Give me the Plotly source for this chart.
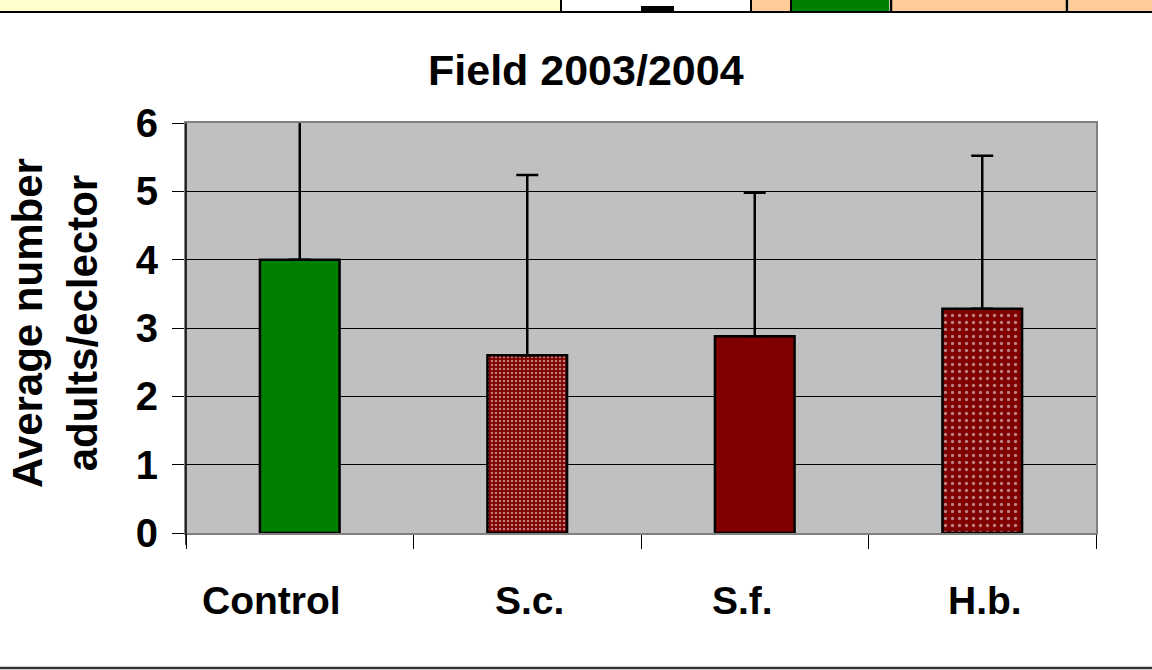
import plotly.graph_objects as go

categories = ["Control", "S.c.", "S.f.", "H.b."]
means = [4.0, 2.6, 2.88, 3.28]
errors = [2.15, 2.64, 2.1, 2.24]
y_ticks = [0, 1, 2, 3, 4, 5, 6]
title_text = "Field 2003/2004"
y_title = "Average number<br>adults/eclector"
label_shift = [-28, 2, -12, 3]  # horizontal offset of category labels (px)

W, H = 1152, 670
L, R, T, B = 186, 1096, 123, 533  # plot area pixels

def px(x):
    return (x - L) / (R - L)

def py(y):
    return (B - y) / (B - T)

FONT = "Liberation Sans, Arial, sans-serif"

fig = go.Figure()
fig.add_trace(go.Bar(
    x=categories, y=means,
    marker=dict(
        color=["#008000", "#800000", "#800000", "#800000"],
        line=dict(color="black", width=2.5),
        pattern=dict(
            shape=["", ".", "", "."],
            fgcolor="white",
            bgcolor=["#008000", "#B01010", "#800000", "#800000"],
            size=[6, 4, 6, 7],
            solidity=[0.2, 0.3, 0.2, 0.18],
            fillmode="overlay",
        ),
    ),
    error_y=dict(type="data", array=errors, symmetric=False, arrayminus=[0]*4,
                 color="black", thickness=2.5, width=11),
    width=0.35,
    hoverinfo="skip",
))

annotations = [
    dict(text="<b>%s</b>" % title_text, x=px(586), y=py(70), xref="paper", yref="paper",
         xanchor="center", yanchor="middle",
         showarrow=False, font=dict(size=43, family=FONT)),
    dict(text="<b>%s</b>" % y_title, x=px(55), y=py(323), xref="paper", yref="paper",
         xanchor="center", yanchor="middle",
         showarrow=False, textangle=-90, font=dict(size=42, family=FONT)),
]
for cat, sh in zip(categories, label_shift):
    annotations.append(dict(text="<b>%s</b>" % cat, x=cat, y=py(600), xref="x", yref="paper",
                            xanchor="center", yanchor="middle", xshift=sh,
                            showarrow=False, font=dict(size=39, family=FONT)))

fig.update_layout(
    width=W, height=H,
    margin=dict(l=L, r=W - R, t=T, b=H - B),
    paper_bgcolor="white",
    plot_bgcolor="#C0C0C0",
    showlegend=False,
    font=dict(family=FONT, color="black"),
    xaxis=dict(
        tickson="boundaries", ticks="outside", ticklen=14, tickcolor="black", tickwidth=1,
        showline=True, linecolor="#808080", linewidth=2, mirror=True,
        showgrid=False, showticklabels=False,
    ),
    yaxis=dict(
        range=[0, 6], tickvals=y_ticks, ticks="outside", ticklen=12, tickcolor="black",
        showline=True, linecolor="#808080", linewidth=2, mirror=True,
        showgrid=True, gridcolor="black", gridwidth=1, zeroline=False,
        ticklabelstandoff=6,
        tickfont=dict(family=FONT, size=40, color="black", weight="bold"),
    ),
    annotations=annotations,
    shapes=[
        dict(type="line", xref="paper", yref="paper", x0=0, x1=0, y0=py(545), y1=1,
             line=dict(color="black", width=1.5)),
        dict(type="rect", xref="paper", yref="paper", x0=px(0), x1=px(561), y0=py(11), y1=py(-5),
             fillcolor="#FFFFCC", line=dict(width=0)),
        dict(type="rect", xref="paper", yref="paper", x0=px(752), x1=px(790), y0=py(11), y1=py(-5),
             fillcolor="#FFCC99", line=dict(width=0)),
        dict(type="rect", xref="paper", yref="paper", x0=px(792), x1=px(889), y0=py(11), y1=py(-5),
             fillcolor="#008000", line=dict(width=0)),
        dict(type="rect", xref="paper", yref="paper", x0=px(892), x1=px(1066), y0=py(11), y1=py(-5),
             fillcolor="#FFCC99", line=dict(width=0)),
        dict(type="rect", xref="paper", yref="paper", x0=px(1069), x1=px(1160), y0=py(11), y1=py(-5),
             fillcolor="#FFCC99", line=dict(width=0)),
        dict(type="line", xref="paper", yref="paper", x0=px(561), x1=px(561), y0=py(11), y1=py(-5),
             line=dict(color="black", width=2)),
        dict(type="line", xref="paper", yref="paper", x0=px(751), x1=px(751), y0=py(11), y1=py(-5),
             line=dict(color="black", width=2)),
        dict(type="line", xref="paper", yref="paper", x0=px(791), x1=px(791), y0=py(11), y1=py(-5),
             line=dict(color="black", width=2)),
        dict(type="line", xref="paper", yref="paper", x0=px(891), x1=px(891), y0=py(11), y1=py(-5),
             line=dict(color="black", width=2.5)),
        dict(type="line", xref="paper", yref="paper", x0=px(1067), x1=px(1067), y0=py(11), y1=py(-5),
             line=dict(color="black", width=2.5)),
        dict(type="rect", xref="paper", yref="paper", x0=px(641), x1=px(674), y0=py(11), y1=py(6),
             fillcolor="black", line=dict(width=0)),
        dict(type="line", xref="paper", yref="paper", x0=px(-5), x1=px(1160), y0=py(12), y1=py(12),
             line=dict(color="black", width=2)),
        dict(type="line", xref="paper", yref="paper", x0=px(-5), x1=px(1160), y0=py(668), y1=py(668),
             line=dict(color="#333333", width=2.5)),
    ],
)

fig.write_html("out.html", config={"displayModeBar": False},
               post_script="document.body.style.margin='0';document.body.style.overflow='hidden';")
